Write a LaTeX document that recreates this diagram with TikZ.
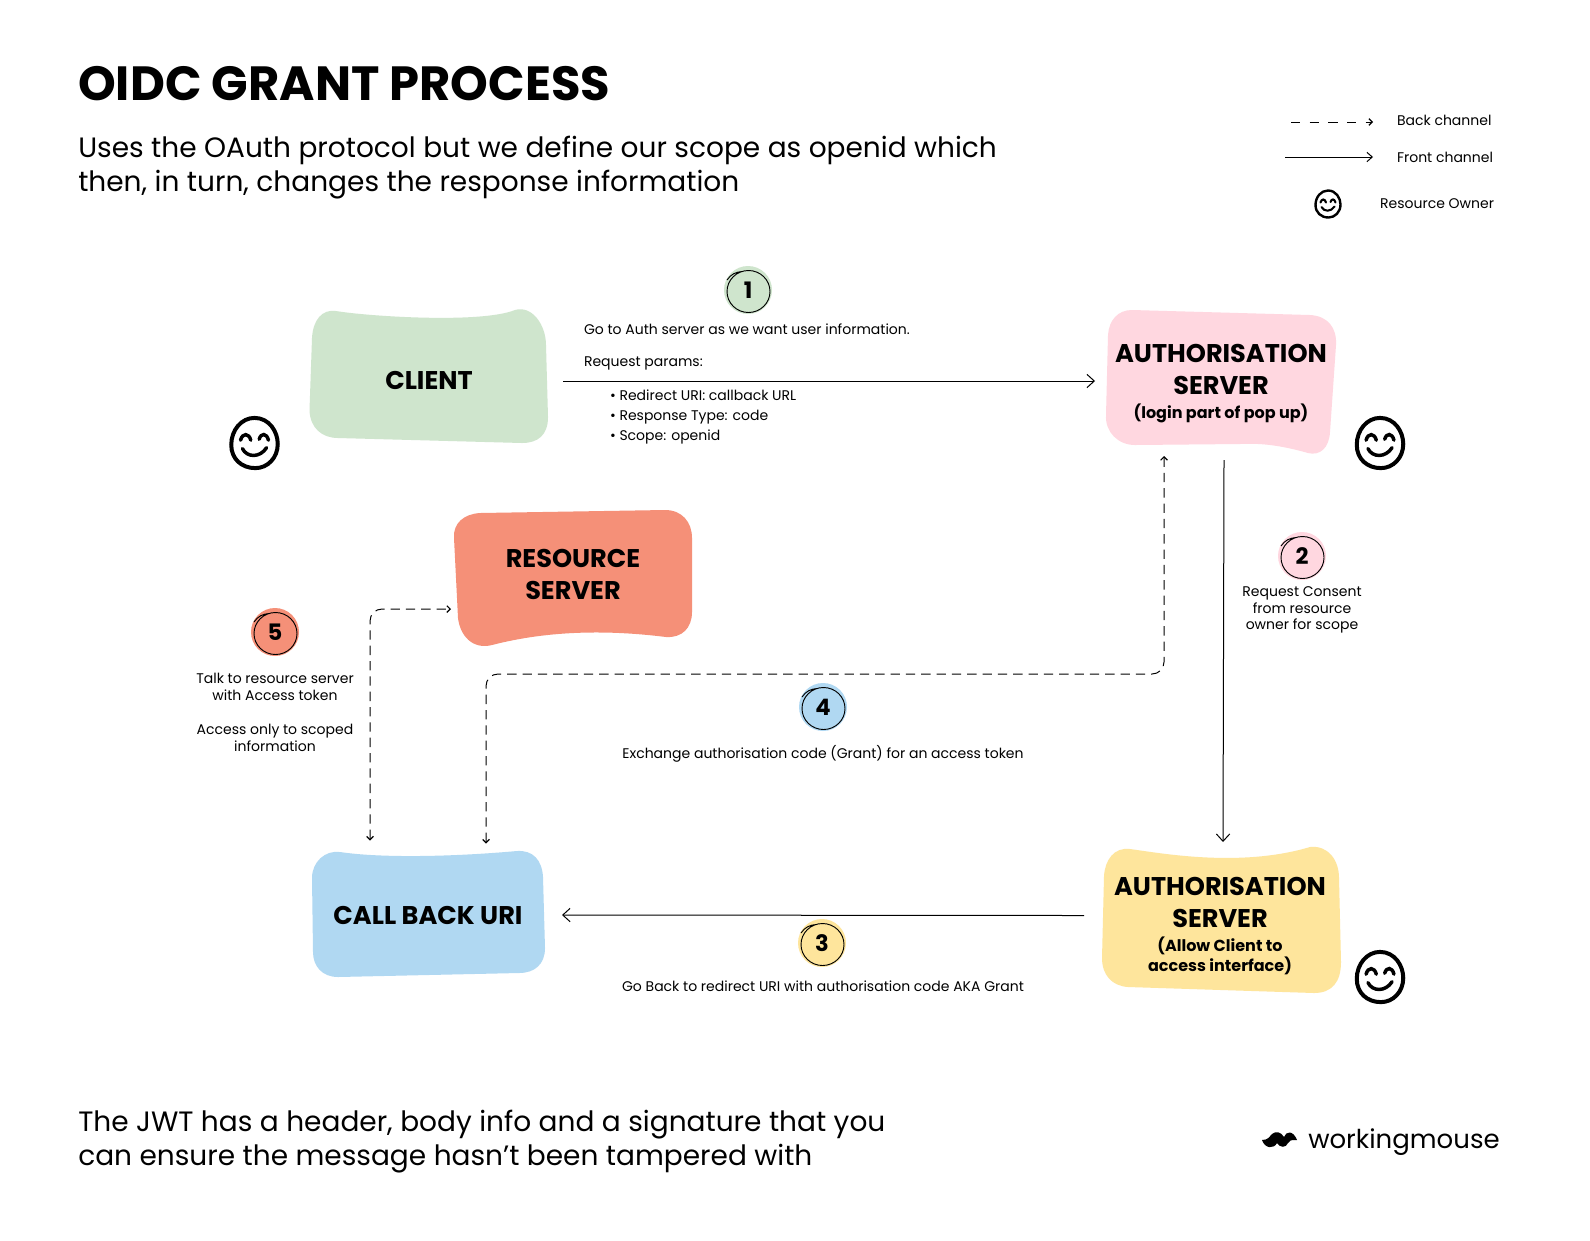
\documentclass[tikz,border=0pt]{standalone}
\usepackage{fontspec}
\setmainfont{Poppins}
\usetikzlibrary{calc,arrows.meta}
\definecolor{cgreen}{HTML}{CFE5CD}
\definecolor{cpink}{HTML}{FFD7E0}
\definecolor{csalmon}{HTML}{F59078}
\definecolor{cyellow}{HTML}{FEE59C}
\definecolor{cblue}{HTML}{B0D8F2}
\newcommand{\fs}[2]{\fontsize{#1}{#2}\selectfont}
\newcommand{\subfs}{\fs{12}{15}}
\tikzset{
  x=0.75pt,y=-0.75pt,
  boxlabel/.style 2 args={inner sep=0pt,outer sep=0pt,minimum width=#1*0.75pt,minimum height=#2*0.75pt,align=center,text=black,font=\bfseries\fs{19.2}{24}},
  small/.style={inner sep=0pt,outer sep=0pt,text=black,font=\fs{10.5}{12.6}},
  smallc/.style={small,align=center},
  front/.style={black,line width=0.75pt,-{Straight Barb[length=5.5pt,width=10pt,line width=0.75pt]}},
  back/.style={black,line width=0.75pt,dash pattern=on 7pt off 4.5pt,rounded corners=9pt,{Straight Barb[length=2.5pt,width=5pt,line width=0.9pt]}-{Straight Barb[length=2.5pt,width=5pt,line width=0.9pt]}},
  backone/.style={black,line width=0.75pt,dash pattern=on 7pt off 7pt,-{Straight Barb[length=2.5pt,width=5pt,line width=0.9pt]}},
  badge/.style={circle,inner sep=0pt,outer sep=0pt,minimum size=36pt,text=black,font=\bfseries\fs{17}{20}},
  sketch/.style={black,line width=0.7pt},
  facew/.initial=1,
  face/.pic={
    \draw[black,line width=3pt*\pgfkeysvalueof{/tikz/facew},line cap=round]
      (0,-27) .. controls (16,-27) and (25,-12) .. (25,1) .. controls (25,16) and (14,27) .. (1,27) .. controls (-14,27) and (-25,17) .. (-25,2) .. controls (-25,-14) and (-14,-27) .. (0,-27) -- cycle;
    \draw[black,line width=2.6pt*\pgfkeysvalueof{/tikz/facew},line cap=round]
      (-15,-3) .. controls (-13,-11) and (-6,-11) .. (-4,-3)
      (5,-4) .. controls (7,-11) and (13,-11) .. (15,-3)
      (-13,6) .. controls (-8,16) and (6,16) .. (13,5);
  }
}
\newcommand{\numbadge}[5]{%
  \node[badge,fill=#4] (#1) at (#2,#3) {#5};
  \draw[sketch,shift={(#1.center)}] (0.5,1.5) ellipse (21.5 and 21)
    (-21,-10) .. controls (-17,-16) and (-12,-18) .. (-6,-18.5);
}
\begin{document}
\begin{tikzpicture}
\useasboundingbox (0,0) rectangle (1590,1240);
\fill[white] (0,0) rectangle (1590,1240);

% box shapes
\fill[cgreen] (336,311) .. controls (365,316) and (480,324) .. (515,310)
  .. controls (532,305) and (546,325) .. (546,345)
  -- (548,417) .. controls (548,435) and (538,443) .. (522,443)
  -- (338,438) .. controls (322,438) and (310,428) .. (309.5,410)
  -- (312,338) .. controls (313,320) and (322,309) .. (336,311) -- cycle;
\fill[cpink] (1132,310) -- (1310,315) .. controls (1328,316) and (1337,328) .. (1336,345)
  -- (1330,432) .. controls (1329,448) and (1320,456) .. (1308,453)
  .. controls (1280,445) and (1260,443) .. (1240,444)
  -- (1135,445) .. controls (1118,445) and (1105,432) .. (1106,415)
  -- (1108,335) .. controls (1109,320) and (1118,310) .. (1132,310) -- cycle;
\fill[csalmon] (480,513) -- (665,510) .. controls (682,510) and (692,522) .. (692,538)
  -- (692,612) .. controls (692,628) and (682,638) .. (666,637)
  .. controls (610,630) and (550,630) .. (492,645)
  .. controls (472,650) and (460,635) .. (458,618)
  -- (454,538) .. controls (453,523) and (464,514) .. (480,513) -- cycle;
\fill[cyellow] (1130,849) .. controls (1160,853) and (1240,868) .. (1310,847)
  .. controls (1328,845) and (1339,860) .. (1339,878)
  -- (1341,962) .. controls (1341,982) and (1332,993) .. (1314,993)
  -- (1128,987) .. controls (1112,986) and (1102,975) .. (1102,958)
  -- (1104,876) .. controls (1105,860) and (1114,847) .. (1130,849) -- cycle;
\fill[cblue] (340,852) .. controls (380,858) and (450,857) .. (517,851)
  .. controls (533,850) and (542,860) .. (543,877)
  -- (545,948) .. controls (545,964) and (535,973) .. (519,973)
  -- (338,977) .. controls (322,977) and (313,966) .. (313,952)
  -- (312,878) .. controls (312,862) and (325,850) .. (340,852) -- cycle;

% box labels
\node[boxlabel={238}{142}] (client) at (429,380) {CLIENT};
\node[boxlabel={230}{143}] (auth) at (1221,383.5) {AUTHORISATION\\[-0.3pt]SERVER\\[-6pt]\subfs (login part of pop up)};
\node[boxlabel={238}{136}] (res) at (573,574) {RESOURCE\\SERVER};
\node[boxlabel={232}{125}] (blue) at (428,915) {CALL BACK URI};
\node[boxlabel={238}{146}] (yellow) at (1220,926.5) {AUTHORISATION\\[0pt]SERVER\\[-6pt]\subfs (Allow Client to\\[-9pt]\subfs access interface)};

% title and captions
\node[anchor=base west,inner sep=0pt,text=black,font=\bfseries\fs{36}{40}] (title) at (78,100.5) {OIDC GRANT PROCESS};
\node[anchor=base west,inner sep=0pt,text=black,font=\fs{21}{25.5},align=left] (sub1) at (78,157) {Uses the OAuth protocol but we define our scope as openid which};
\node[anchor=base west,inner sep=0pt,text=black,font=\fs{21}{25.5},align=left] (sub2) at (78,191) {then, in turn, changes the response information};
\node[anchor=base west,inner sep=0pt,text=black,font=\fs{21}{25.5}] (foot1) at (78,1131) {The JWT has a header, body info and a signature that you};
\node[anchor=base west,inner sep=0pt,text=black,font=\fs{21}{25.5}] (foot2) at (78,1165) {can ensure the message hasn’t been tampered with};
\node[anchor=base west,inner sep=0pt,text=black,font=\fs{19.5}{25}] (wm) at (1308,1148) {workingmouse};
\fill[black] (1262,1140) .. controls (1268,1140) and (1269,1137) .. (1272,1134)
  .. controls (1276,1130.5) and (1281,1132) .. (1284,1137)
  .. controls (1286,1131) and (1293,1130) .. (1297,1140)
  .. controls (1291,1140) and (1289,1140) .. (1288,1143)
  .. controls (1286,1148) and (1280,1148) .. (1277,1143)
  .. controls (1274,1149) and (1265,1149) .. (1262,1140) -- cycle;

% legend
\coordinate (l1a) at (1291,122); \coordinate (l1b) at (1373,122);
\coordinate (l2a) at (1285,157); \coordinate (l2b) at (1373,157);
\draw[backone] (l1a) -- (l1b);
\draw[black,line width=0.75pt,-{Straight Barb[length=4pt,width=7pt,line width=0.75pt]}] (l2a) -- (l2b);
\node[small,anchor=west] (lg1) at (1397,120) {Back channel};
\node[small,anchor=west] (lg2) at (1397,157) {Front channel};
\node[small,anchor=east] (lg3) at (1494,204) {Resource Owner};

% faces
\pic[scale=0.93] at (254.5,443) {face};
\pic[scale=0.93] at (1380,443) {face};
\pic[scale=0.93] at (1380,977) {face};
\pic[scale=0.5,facew=0.6] at (1328,204) {face};

% badges
\numbadge{b1}{748}{290}{cgreen}{1}
\numbadge{b2}{1302}{556}{cpink}{2}
\numbadge{b3}{822}{943}{cyellow}{3}
\numbadge{b4}{823}{707}{cblue}{4}
\numbadge{b5}{275}{632}{csalmon}{5}

% step texts
\node[small,anchor=base west] (t1a) at (584,334) {Go to Auth server as we want user information.};
\node[small,anchor=base west] (t1b) at (584,366) {Request params:};
\node[small,anchor=base west] (t1c) at (610,400.5) {• Redirect URI: callback URL};
\node[small,anchor=base west] (t1d) at (610,420.5) {• Response Type: code};
\node[small,anchor=base west] (t1e) at (610,440.5) {• Scope: openid};
\node[smallc] (t2) at (1302,610) {Request Consent\\from resource\\owner for scope};
\node[smallc] (t3) at (823,986) {Go Back to redirect URI with authorisation code AKA Grant};
\node[smallc] (t4) at (823,754) {Exchange authorisation code (Grant) for an access token};
\node[smallc] (t5) at (275,712.5) {Talk to resource server\\with Access token\\[13pt]Access only to scoped\\information};

% connectors
\coordinate (m4) at (800,674);
\draw[front] ($(client.east)+(15,1)$) -- ($(auth.west)+(-11,-2.5)$);
\draw[front] ($(auth.south)+(3,5)$) -- ($(yellow.north)+(3,-11.5)$);
\draw[front] ($(yellow.west)+(-17,-11)$) -- ($(blue.east)+(18,0)$);
\draw[back] ($(blue.north)+(58,-9)$) |- (m4) -| ($(auth.south)+(-57,1)$);
\draw[back] ($(blue.north)+(-58,-12)$) |- ($(res.west)+(-3,35)$);
\end{tikzpicture}
\end{document}
